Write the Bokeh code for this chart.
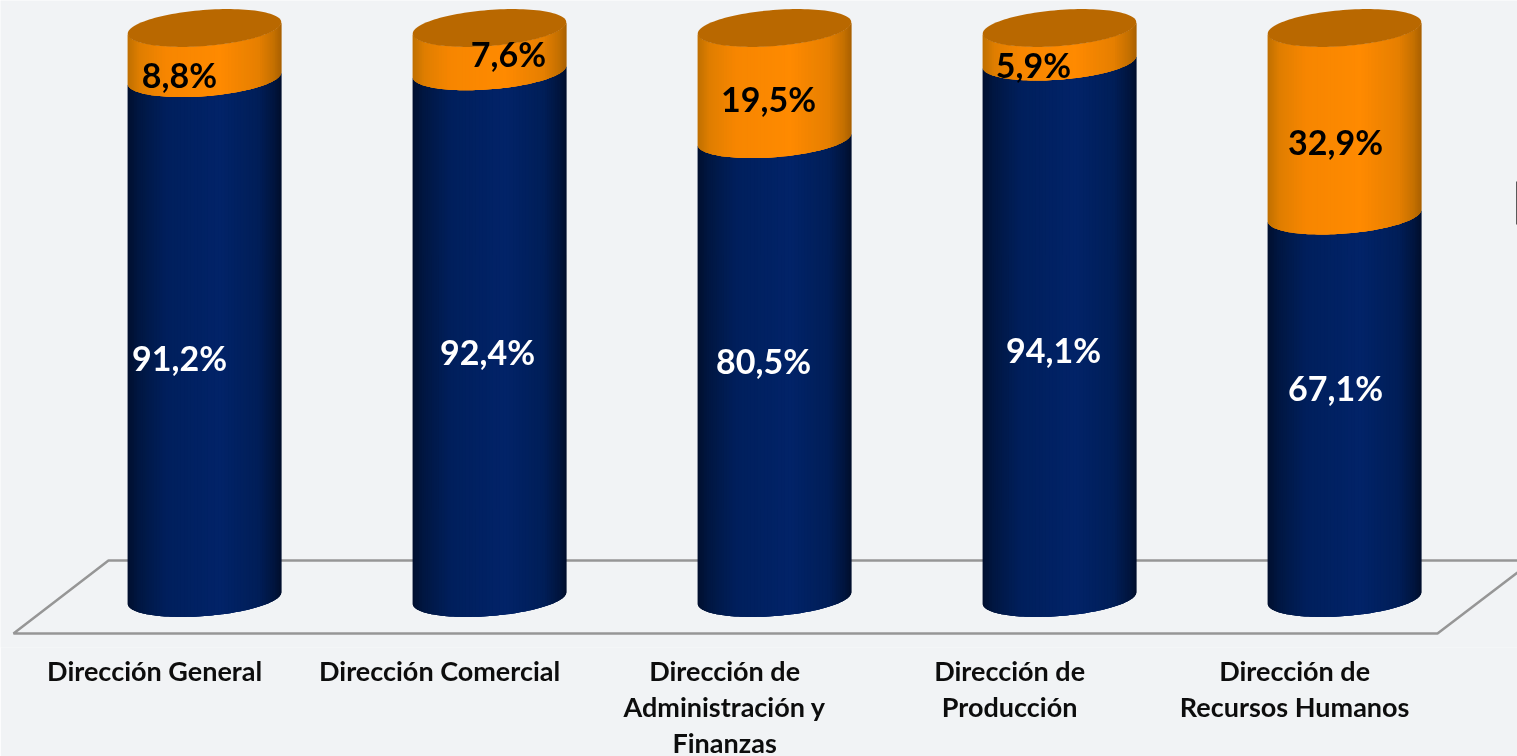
import math
from bokeh.plotting import figure
from bokeh.models import FixedTicker, Range1d
from bokeh.core.properties import value
from bokeh.embed import file_html
from bokeh.resources import INLINE

categories = ["Dirección General", "Dirección Comercial", "Dirección de\nAdministración y\nFinanzas",
              "Dirección de\nProducción", "Dirección de\nRecursos Humanos"]
blue_values = [91.2, 92.4, 80.5, 94.1, 67.1]
orange_values = [8.8, 7.6, 19.5, 5.9, 32.9]
tick_positions = [-0.175, 0.825, 1.825, 2.825, 3.825]  # the labels sit left of their cylinders

# layout (screen pixels)
W, H, FRAME_H = 1517, 756, 647
X0, PX_PER_CAT = 204.0, 285.0
Y_100, Y_0 = 27.5, 597.5
PX_PER_PCT = (Y_0 - Y_100) / 100
A, B, TILT = 77.0, 18.0, math.radians(4.5)
BG = "#f1f3f5"
TOP = "#b96800"
blue_ramp = [(0, "#00102f"), (0.08, "#001743"), (0.25, "#001f5c"), (0.6, "#022368"), (0.85, "#001e58"), (0.95, "#00153f"), (1, "#000f2c")]
orange_ramp = [(0, "#bf7000"), (0.08, "#e07e00"), (0.25, "#f78600"), (0.6, "#ff8a00"), (0.85, "#e67f00"), (0.95, "#c47000"), (1, "#a86000")]
blue_label_off = [(-25, 357), (-2, 351), (-11, 360), (-6, 349), (-9, 387)]
orange_label_off = [(-25, 74), (19, 53), (-6, 98), (-26, 64), (-9, 141)]


def sx(px):
    return (px - X0) / PX_PER_CAT


def sy(px):
    return (Y_0 - px) / PX_PER_PCT


def rgb(c):
    return tuple(int(c[i:i + 2], 16) for i in (1, 3, 5))


def ramp(stops, f):
    for (a, ca), (b, cb) in zip(stops, stops[1:]):
        if f <= b:
            u = (f - a) / (b - a)
            ra, rb = rgb(ca), rgb(cb)
            return "#%02x%02x%02x" % tuple(round(p + (q - p) * u) for p, q in zip(ra, rb))
    return stops[-1][1]


def edge(t):
    # y grows upwards here, offsets are in pixels
    ex = A * math.cos(t) * math.cos(TILT) - B * math.sin(t) * math.sin(TILT)
    ey = A * math.cos(t) * math.sin(TILT) + B * math.sin(t) * math.cos(TILT)
    return ex, ey


T0 = math.atan2(-B * math.sin(TILT), A * math.cos(TILT)) + math.pi  # left-most point
N = 70
ts = [T0 + math.pi * k / N for k in range(N + 1)]
pts = [edge(t) for t in ts]

xs_b, ys_b, cs_b, xs_o, ys_o, cs_o = [], [], [], [], [], []
for i, (bv, ov) in enumerate(zip(blue_values, orange_values)):
    for k in range(N):
        # each strip runs on under the next one so no seams show
        run = pts[k:k + 4]
        f = (0.5 * (pts[k][0] + pts[k + 1][0]) + A) / (2 * A)
        rx = [i + q[0] / PX_PER_CAT for q in run]
        rd = [q[1] / PX_PER_PCT for q in run]
        qx = rx + rx[::-1]
        xs_b.append(qx)
        ys_b.append(rd + [bv + d for d in rd[::-1]])
        cs_b.append(ramp(blue_ramp, f))
        xs_o.append(qx)
        ys_o.append([bv + d for d in rd] + [bv + ov + d for d in rd[::-1]])
        cs_o.append(ramp(orange_ramp, f))

p = figure(width=W, height=H, frame_width=W, frame_height=FRAME_H, output_backend="svg", toolbar_location=None,
           x_range=Range1d(sx(0), sx(W)), y_range=Range1d(sy(FRAME_H), sy(0)),
           min_border=0, background_fill_color=BG, border_fill_color=BG, outline_line_color=None)
p.styles = {"position": "fixed", "left": "0px", "top": "0px"}
p.grid.visible = False
p.yaxis.visible = False

ax = p.xaxis[0]
ax.ticker = FixedTicker(ticks=tick_positions)
ax.major_label_overrides = dict(zip(tick_positions, categories))
ax.axis_line_color = None
ax.major_tick_line_color = None
ax.minor_tick_line_color = None
ax.major_label_text_font = "Lato"
ax.major_label_text_font_style = "bold"
ax.major_label_text_font_size = "27px"
ax.major_label_text_color = "#0d0d0d"
ax.major_label_text_line_height = 1.1
ax.major_label_standoff = 0

# floor
p.line([sx(1517), sx(108), sx(13), sx(1437), sx(1517)], [sy(560), sy(560), sy(633), sy(633), sy(572)],
       line_color="#969696", line_width=2.5)
# stray element at right edge of the picture
p.quad(left=sx(1515.5), right=sx(1520), bottom=sy(224), top=sy(181), fill_color="#5a5a5a", line_color=None)

p.patches(xs_b, ys_b, fill_color=cs_b, line_color=None)
p.patches(xs_o, ys_o, fill_color=cs_o, line_color=None)

# top caps
full = [edge(2 * math.pi * k / 120) for k in range(121)]
p.patches([[i + e[0] / PX_PER_CAT for e in full] for i in range(len(categories))],
          [[100 + e[1] / PX_PER_PCT for e in full] for i in range(len(categories))],
          fill_color=TOP, line_color=None)

p.text([i + o[0] / PX_PER_CAT for i, o in enumerate(blue_label_off)], [sy(o[1]) for o in blue_label_off],
       text=[f"{v:.1f}%".replace(".", ",") for v in blue_values],
       text_font=value("Lato"), text_font_style="bold", text_font_size="34px", text_color="#ffffff",
       text_align="center", text_baseline="middle")
p.text([i + o[0] / PX_PER_CAT for i, o in enumerate(orange_label_off)], [sy(o[1]) for o in orange_label_off],
       text=[f"{v:.1f}%".replace(".", ",") for v in orange_values],
       text_font=value("Lato"), text_font_style="bold", text_font_size="34px", text_color="#000000",
       text_align="center", text_baseline="middle")

open("out.html", "w").write(file_html(p, INLINE))
